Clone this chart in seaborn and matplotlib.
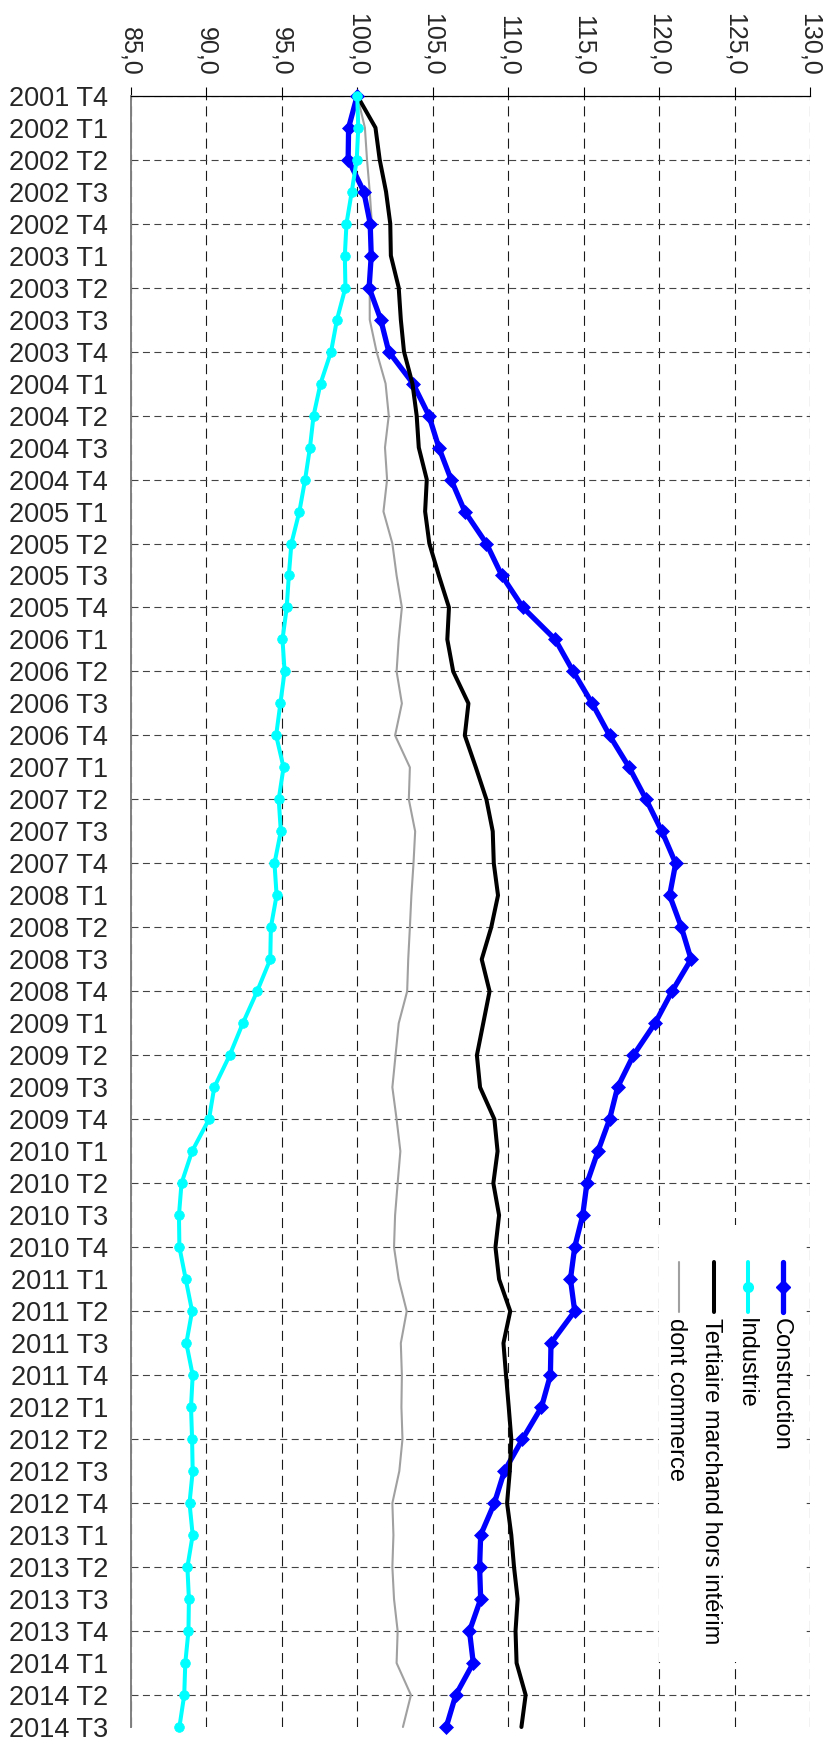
import numpy as np
import matplotlib
matplotlib.use("Agg")
import matplotlib.pyplot as plt
from matplotlib.lines import Line2D
from matplotlib.patches import Rectangle
import seaborn as sns

# ---------------- data ----------------
categories = ["2001 T4"] + [f"{y} T{q}" for y in range(2002, 2014) for q in range(1, 5)] + ["2014 T1", "2014 T2", "2014 T3"]

construction = [100.0, 99.43, 99.4, 100.44, 100.86, 100.93, 100.79, 101.56, 102.09, 103.7, 104.75, 105.41, 106.22,
                107.13, 108.56, 109.58, 110.98, 113.12, 114.31, 115.57, 116.72, 118.02, 119.14, 120.19, 121.1,
                120.7, 121.48, 122.12, 120.86, 119.73, 118.3, 117.25, 116.72, 115.95, 115.22, 114.94, 114.41,
                114.13, 114.41, 112.84, 112.8, 112.21, 110.95, 109.75, 109.09, 108.18, 108.11, 108.18, 107.44,
                107.69, 106.53, 105.9]
industrie = [100.0, 100.07, 99.97, 99.64, 99.29, 99.18, 99.22, 98.66, 98.27, 97.57, 97.11, 96.87, 96.55,
             96.17, 95.64, 95.47, 95.33, 95.05, 95.19, 94.91, 94.63, 95.12, 94.8, 94.94, 94.52,
             94.66, 94.28, 94.24, 93.37, 92.42, 91.55, 90.53, 90.18, 89.06, 88.36, 88.19, 88.22,
             88.64, 89.06, 88.68, 89.1, 88.99, 89.06, 89.1, 88.89, 89.1, 88.75, 88.85, 88.82, 88.61, 88.54, 88.22]
tertiaire = [100.0, 101.21, 101.49, 101.91, 102.19, 102.23, 102.75, 102.89, 103.1, 103.66, 103.94, 104.08, 104.61,
             104.5, 104.78, 105.41, 106.08, 105.97, 106.36, 107.37, 107.13, 107.86, 108.56, 108.98, 109.05,
             109.33, 108.88, 108.25, 108.77, 108.35, 107.93, 108.14, 109.09, 109.3, 109.02, 109.4, 109.16,
             109.4, 110.14, 109.69, 109.86, 110.04, 110.21, 110.11, 109.93, 110.21, 110.39, 110.63, 110.49,
             110.56, 111.16, 110.88]
commerce = [100.0, 100.51, 100.65, 100.83, 100.97, 100.9, 100.83, 100.83, 101.28, 101.88, 102.09, 101.84, 101.98,
            101.74, 102.33, 102.61, 102.96, 102.75, 102.61, 102.96, 102.51, 103.49, 103.42, 103.84, 103.73,
            103.59, 103.49, 103.38, 103.31, 102.75, 102.54, 102.33, 102.61, 102.86, 102.68, 102.51, 102.44,
            102.75, 103.28, 102.89, 102.96, 102.93, 103.0, 102.79, 102.33, 102.4, 102.33, 102.44, 102.68,
            102.61, 103.56, 103.03]

series_names = ["Construction", "Industrie", "Tertiaire marchand hors intérim", "dont commerce"]
value_ticks = [85, 90, 95, 100, 105, 110, 115, 120, 125, 130]
value_tick_labels = ["85,0", "90,0", "95,0", "100,0", "105,0", "110,0", "115,0", "120,0", "125,0", "130,0"]

# ---------------- style ----------------
sns.set_style("white")
plt.rcParams["font.family"] = ["Liberation Sans", "DejaVu Sans"]

W, H = 828, 1744
fig = plt.figure(figsize=(W / 100, H / 100), dpi=100)

def fx(px):
    return px / W

def fy(py):
    return 1 - py / H

x_left, x_right = 130.8, 810.0
y_top, y_bot = 95.7, 1727.0
ax = fig.add_axes([fx(x_left), fy(y_bot), fx(x_right) - fx(x_left), fy(y_top) - fy(y_bot)])

pos = np.arange(len(categories))

styles = [
    dict(data=commerce, color="#A0A0A0", lw=1.5, marker=None, ms=0, z=2),
    dict(data=construction, color="#0000FF", lw=3.8, marker="D", ms=6.8, z=3),
    dict(data=tertiaire, color="#000000", lw=2.9, marker=None, ms=0, z=4),
    dict(data=industrie, color="#00FFFF", lw=2.9, marker="o", ms=7.0, z=5),
]
for s in styles:
    kw = dict(color=s["color"], linewidth=s["lw"], zorder=s["z"], clip_on=False)
    if s["marker"]:
        kw.update(marker=s["marker"], markersize=s["ms"], markeredgecolor=s["color"], markeredgewidth=0.5)
    sns.lineplot(x=s["data"], y=pos, sort=False, estimator=None, ax=ax, legend=False, **kw)

ax.set_xlim(85, 130)
ax.set_ylim(len(categories) - 1, 0)
ax.set_xlabel("")
ax.set_ylabel("")

# value axis on top
ax.xaxis.tick_top()
ax.set_xticks(value_ticks)
ax.set_xticklabels(value_tick_labels, rotation=-90, fontsize=18)
ax.tick_params(axis="x", top=True, bottom=False, labeltop=True, labelbottom=False,
               direction="out", length=6.3, width=0.8, color="black", pad=8)

# category axis on left
major = pos[::2]
minor = pos[1::2]
ax.set_yticks(major)
ax.set_yticklabels([categories[i] for i in major], fontsize=19.5)
ax.set_yticks(minor, minor=True)
ax.set_yticklabels([categories[i] for i in minor], minor=True, fontsize=19.5)
ax.tick_params(axis="y", which="major", direction="out", length=6, width=0.8, color="#333333", pad=10.4)
ax.tick_params(axis="y", which="minor", length=0, pad=16.4)

# grid
ax.set_axisbelow(True)
ax.xaxis.grid(True, color="#1a1a1a", linewidth=0.8, linestyle=(0, (9, 5.5)))
ax.yaxis.grid(True, which="major", color="#444444", linewidth=0.8, linestyle=(0, (6.3, 4)))

for side in ["right", "bottom"]:
    ax.spines[side].set_visible(False)
ax.spines["top"].set_color("black")
ax.spines["top"].set_linewidth(0.9)
ax.spines["left"].set_color("#808080")
ax.spines["left"].set_linewidth(1.4)

# ---------------- legend (vertical, rotated text) ----------------
fig.add_artist(Rectangle((fx(659), fy(1662)), fx(803) - fx(659), fy(1225) - fy(1662),
                         facecolor="white", edgecolor="none", transform=fig.transFigure, zorder=5))
leg_x = [783.3, 748.5, 714.0, 679.5]
leg_style = [styles[1], styles[3], styles[2], styles[0]]
for name, xp, s in zip(series_names, leg_x, leg_style):
    fig.add_artist(Line2D([fx(xp), fx(xp)], [fy(1262), fy(1312)], transform=fig.transFigure,
                          color=s["color"], linewidth=s["lw"], zorder=6))
    if s["marker"]:
        fig.add_artist(Line2D([fx(xp)], [fy(1287)], transform=fig.transFigure, color=s["color"],
                              marker=s["marker"], markersize=s["ms"], markeredgecolor=s["color"],
                              linestyle="none", zorder=7))
    fig.text(fx(xp - 3), fy(1318), name, rotation=-90, ha="center", va="top", fontsize=17,
             color="black", zorder=8)

fig.savefig("out.png", dpi=100)
